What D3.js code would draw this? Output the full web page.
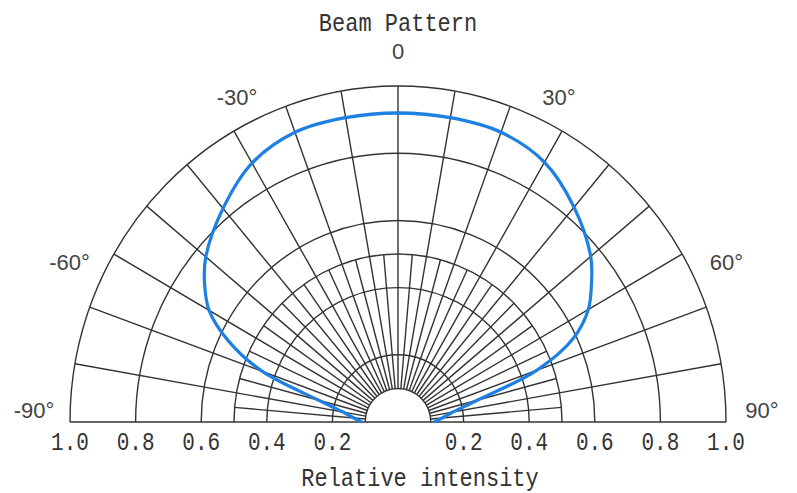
<!DOCTYPE html>
<html lang="en">
<head>
<meta charset="UTF-8">
<title>Beam Pattern</title>
<script src="https://cdnjs.cloudflare.com/ajax/libs/d3/7.8.5/d3.min.js"></script>
<style>
    body { margin: 0; background: #fff; }
    .grid { fill: none; stroke: #333; stroke-width: 1.4px; }
    .beam { fill: none; stroke: #1d80e2; stroke-width: 3.2px; stroke-linejoin: round; }
    .mono { font-family: "Liberation Mono", "DejaVu Sans Mono", monospace; fill: #333; }
    .ang { font-family: "Liberation Sans", Arial, sans-serif; fill: #444; font-size: 22px; }
</style>
</head>
<body>
<svg id="chart" width="797" height="493"></svg>
<script>
    // beam intensity, angle in degrees
    const angles = [-90, -85, -80, -75, -70, -65, -60, -55, -50, -40, -30, -20, -10, 0,
                    10, 20, 30, 40, 50, 55, 60, 65, 70, 75, 80, 85, 90];
    const intensity = [0.11, 0.135, 0.17, 0.25, 0.44, 0.57, 0.665, 0.72, 0.765, 0.83, 0.89, 0.918, 0.92, 0.92,
                       0.92, 0.918, 0.893, 0.835, 0.767, 0.72, 0.67, 0.59, 0.45, 0.25, 0.17, 0.135, 0.11];

    const ringValues = [0.1, 0.2, 0.4, 0.5, 0.6, 0.8, 1.0];
    const tickValues = [0.2, 0.4, 0.6, 0.8, 1.0];
    const tickLabels = ["0.2", "0.4", "0.6", "0.8", "1.0"];
    const spokeMajor = d3.range(-80, 81, 10);   // reach the outer ring
    const spokeMinor = d3.range(-85, 86, 10);   // stop at the 0.5 ring
    const angleLabels = [
        { a: -90, text: "-90°" }, { a: -60, text: "-60°" }, { a: -30, text: "-30°" },
        { a: 0, text: "0" }, { a: 30, text: "30°" }, { a: 60, text: "60°" }, { a: 90, text: "90°" }
    ];

    const svg = d3.select("#chart");
    const cx = 398, cy = 422;
    const stretch = 1.024;   // picture is a touch taller than wide

    const r = d3.scaleLinear().domain([0, 1]).range([0, 328]);
    const rad = d => d * Math.PI / 180;

    const g = svg.append("g").attr("transform", `translate(${cx},${cy}) scale(1,${stretch})`);

    // rings
    ringValues.forEach(v => {
        const p = d3.path();
        p.arc(0, 0, r(v), Math.PI, 2 * Math.PI);
        g.append("path").attr("class", "grid").attr("d", p.toString());
    });

    // base line
    g.append("line").attr("class", "grid")
        .attr("x1", -r(1)).attr("x2", r(1)).attr("y1", 0).attr("y2", 0);

    // spokes
    const spoke = (a, r0, r1) => {
        const s = Math.sin(rad(a)), c = Math.cos(rad(a));
        g.append("line").attr("class", "grid")
            .attr("x1", r(r0) * s).attr("y1", -r(r0) * c)
            .attr("x2", r(r1) * s).attr("y2", -r(r1) * c);
    };
    spokeMajor.forEach(a => spoke(a, 0.1, 1.0));
    spokeMinor.forEach(a => spoke(a, 0.1, 0.5));

    // beam curve
    const beam = d3.lineRadial()
        .angle((d, i) => rad(angles[i]))
        .radius(d => r(d))
        .curve(d3.curveCatmullRom.alpha(0.5));
    g.append("path").attr("class", "beam").attr("d", beam(intensity));

    // angle labels
    const labR = r(1) + 34;
    angleLabels.forEach(l => {
        const s = Math.sin(rad(l.a)), c = Math.cos(rad(l.a));
        let x = cx + labR * s, y = cy - labR * c * stretch;
        if (Math.abs(l.a) === 30) { x -= 20 * Math.sign(l.a); y -= 4; }
        if (Math.abs(l.a) === 60) { x += 15 * Math.sign(l.a); y += 25; }
        if (Math.abs(l.a) === 90) { x += 2 * Math.sign(l.a); y -= 12; }
        svg.append("text").attr("class", "ang")
            .attr("x", x).attr("y", y).attr("dy", "0.36em")
            .attr("text-anchor", "middle").text(l.text);
    });

    // mono text, drawn a bit taller like the reference glyphs
    const monoText = (x, y, size, txt) => svg.append("text").attr("class", "mono")
        .attr("transform", `translate(${x},${y}) scale(1,1.2)`)
        .attr("text-anchor", "middle")
        .style("font-size", size + "px")
        .text(txt);

    // radial tick labels on both sides of the base line
    [-1, 1].forEach(side => {
        tickValues.forEach((v, i) => monoText(cx + side * r(v), 450, 21, tickLabels[i]));
    });

    monoText(cx, 31, 22, "Beam Pattern");
    monoText(420, 486, 22, "Relative intensity");
</script>
</body>
</html>
